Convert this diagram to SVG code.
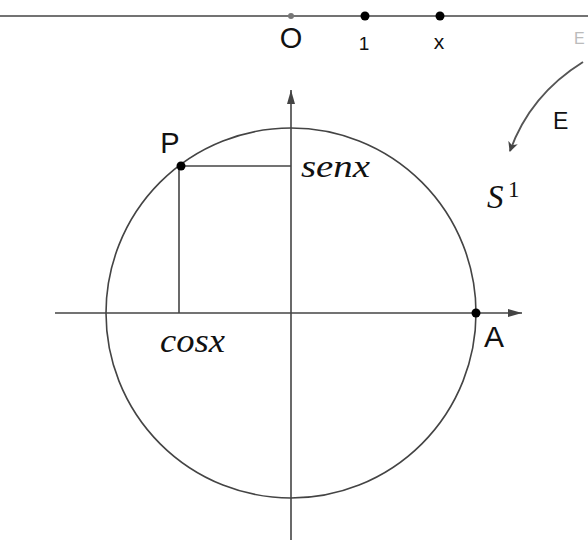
<svg xmlns="http://www.w3.org/2000/svg" width="588" height="543" viewBox="0 0 588 543">
<defs>
<style>
.ln{stroke:#444;stroke-width:1.6;fill:none}
.sans{font-family:"Liberation Sans",Arial,sans-serif;fill:#111}
.math{font-family:"Liberation Serif","Times New Roman",serif;font-style:italic;fill:#111}
</style>
<marker id="ah" viewBox="0 0 10 10" refX="9" refY="5" markerWidth="10" markerHeight="10" orient="auto" markerUnits="userSpaceOnUse">
<path d="M0,0 L10,5 L0,10 L3,5 z" fill="#444"/>
</marker>
<marker id="ax" viewBox="0 0 14 10" refX="14" refY="5" markerWidth="14" markerHeight="10" orient="auto" markerUnits="userSpaceOnUse">
<path d="M0,1 L14,5 L0,9 z" fill="#444"/>
</marker>
</defs>
<rect width="588" height="543" fill="#fff"/>
<g id="connectors">
<line class="ln" x1="0" y1="16" x2="588" y2="16"/>
<line class="ln" x1="55" y1="313" x2="522" y2="313" marker-end="url(#ax)"/>
<line class="ln" x1="291" y1="540" x2="291" y2="90" marker-end="url(#ax)"/>
<path class="ln" style="stroke:#555;stroke-width:2" d="M583,62 Q530,95 510,151" marker-end="url(#ah)"/>
<line class="ln" x1="181" y1="166" x2="291" y2="166"/>
<line class="ln" x1="179" y1="166" x2="179" y2="313"/>
</g>
<g id="circle"><circle class="ln" cx="291" cy="313" r="185"/></g>
<g id="O"><circle cx="291" cy="16" r="3" fill="#777"/><text class="sans" x="291" y="48" font-size="29" text-anchor="middle">O</text></g>
<g id="one"><circle cx="365" cy="16" r="4.5" fill="#000"/><text class="sans" x="364" y="50" font-size="19" text-anchor="middle">1</text></g>
<g id="x"><circle cx="440" cy="16" r="4.5" fill="#000"/><text class="sans" x="439" y="49" font-size="21" text-anchor="middle">x</text></g>
<g id="edge"><text class="sans" x="574" y="44" font-size="16" style="fill:#bbb">E</text></g>
<g id="E"><text class="sans" x="553" y="129" font-size="23">E</text></g>
<g id="S1"><text class="math" x="487" y="208" font-size="33">S<tspan font-style="normal" font-size="23" x="508" y="197">1</tspan></text></g>
<g id="P"><circle cx="181" cy="166" r="4.5" fill="#000"/><text class="sans" x="170" y="153" font-size="29" text-anchor="middle">P</text></g>
<g id="A"><circle cx="476" cy="313" r="4.5" fill="#000"/><text class="sans" x="494" y="347" font-size="30" text-anchor="middle">A</text></g>
<g id="senx"><text class="math" x="301" y="177" font-size="32" textLength="69" lengthAdjust="spacingAndGlyphs">senx</text></g>
<g id="cosx"><text class="math" x="160" y="352" font-size="33" textLength="65" lengthAdjust="spacingAndGlyphs">cosx</text></g>
</svg>
